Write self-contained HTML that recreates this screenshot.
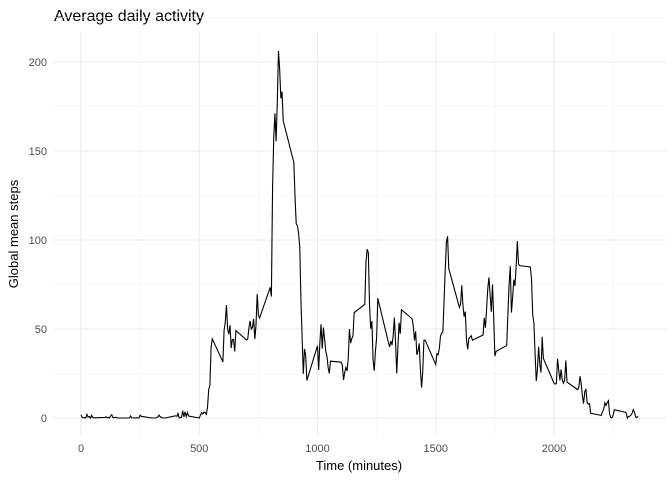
<!DOCTYPE html>
<html><head><meta charset="utf-8"><style>
body{margin:0;background:#fff;font-family:"Liberation Sans",sans-serif;}
</style></head><body>
<svg id="chart" width="672" height="480">
<text x="54" y="21" font-size="16" fill="#000">Average daily activity</text>
<g id="grid"></g><g id="ticks"></g>
<text x="359" y="470" font-size="13" text-anchor="middle">Time (minutes)</text>
<text transform="translate(18,234) rotate(-90)" font-size="13" text-anchor="middle">Global mean steps</text>
<path id="line" fill="none" stroke="#000" stroke-width="1.1"></path>
</svg>
<script>
const xTicks=[0,500,1000,1500,2000];
const yTicks=[0,50,100,150,200];
const intervals=[];
for(let h=0;h<24;h++)for(let m=0;m<60;m+=5)intervals.push(h*100+m);
const steps=[1.72,0.34,0.13,0.15,0.08,2.09,0.53,0.87,0,1.47,0.30,0.13,
0.32,0.68,0.15,0.34,0,1.11,1.83,0.17,0.17,0.38,0.26,0,
0,0,1.13,0,0,0.13,0,0.23,0,0,1.55,0.94,
0,0,0,0,0.21,0.62,1.62,0.58,0.49,0.08,0,0,
1.19,0.94,2.57,0,0.34,0.36,4.11,0.66,3.49,0.83,3.11,1.11,
0,1.57,3.0,2.25,3.32,2.96,2.09,6.06,16.02,18.34,39.45,44.49,
31.49,49.26,53.77,63.45,49.96,47.08,52.15,39.34,44.02,44.17,37.36,49.04,
43.81,44.38,50.51,54.51,49.92,50.98,55.68,44.32,52.26,69.55,57.85,56.15,
73.38,68.21,129.43,157.53,171.15,155.40,177.30,206.17,195.92,179.57,183.40,167.02,
143.45,124.04,109.11,108.11,103.72,95.96,66.21,45.23,24.79,38.75,34.98,21.06,
40.57,26.98,42.42,52.66,38.92,50.79,44.28,37.42,34.70,28.34,25.09,31.94,
31.36,29.68,21.32,25.55,28.38,26.47,33.43,49.98,42.04,44.60,46.04,59.19,
63.87,87.70,94.85,92.77,63.40,50.17,54.47,32.42,26.53,37.74,45.06,67.28,
42.34,39.89,43.26,40.98,46.25,56.43,42.75,25.13,39.96,53.55,47.32,60.81,
55.75,51.96,43.58,48.70,35.47,37.55,41.85,27.51,17.11,26.08,43.62,43.77,
30.02,36.08,35.49,38.85,45.96,47.75,48.13,65.32,82.91,98.66,102.11,83.96,
62.13,64.13,74.55,63.17,56.91,59.77,43.87,38.57,44.66,45.45,46.21,43.68,
46.62,56.30,50.72,61.23,72.72,78.94,68.94,59.66,75.09,56.51,34.77,37.45,
40.68,58.02,74.70,85.32,59.26,67.77,77.70,74.25,85.34,99.45,86.58,85.60,
84.87,77.83,58.04,53.36,36.32,20.72,27.40,40.02,30.21,25.55,45.66,33.53,
19.62,19.02,19.34,33.34,26.81,21.17,27.30,21.34,19.55,21.32,32.30,20.15,
15.94,17.23,23.45,19.25,12.45,8.02,14.66,16.30,8.68,7.79,8.13,2.62,
1.45,3.68,4.81,8.51,7.08,8.70,9.75,2.21,0.32,0.11,1.60,4.60,
3.30,2.85,0,0.83,0.96,1.58,2.60,4.70,3.30,0.64,0.23,1.08];
const L=53,R=666,T=32,B=436;
const sx=v=>81+v*(554-81)/2000;
const sy=v=>418-v*(418-62)/200;
const ns="http://www.w3.org/2000/svg";
const grid=document.getElementById('grid'),tk=document.getElementById('ticks');
function ln(x1,y1,x2,y2,c,w,name){const e=document.createElementNS(ns,'line');
e.setAttribute('x1',x1);e.setAttribute('y1',y1);e.setAttribute('x2',x2);e.setAttribute('y2',y2);
e.setAttribute('stroke',c);e.setAttribute('stroke-width',w);


grid.appendChild(e);}
for(let i=0;i<xTicks.length;i++){const v=xTicks[i];
ln(sx(v),T,sx(v),B,'#ebebeb',1.1,'x-major-gridline');
ln(sx(v+250),T,sx(v+250),B,'#f3f3f3',0.6,'x-minor-gridline');
const t=document.createElementNS(ns,'text');t.setAttribute('x',sx(v));t.setAttribute('y',452);
t.setAttribute('font-size','11');t.setAttribute('fill','#4d4d4d');t.setAttribute('text-anchor','middle');
t.textContent=v;


tk.appendChild(t);}
for(let i=0;i<yTicks.length;i++){const v=yTicks[i];
ln(L,sy(v),R,sy(v),'#ebebeb',1.1,'y-major-gridline');
ln(L,sy(v+25),R,sy(v+25),'#f3f3f3',0.6,'y-minor-gridline');
const t=document.createElementNS(ns,'text');t.setAttribute('x',47);t.setAttribute('y',sy(v)+4);
t.setAttribute('font-size','11');t.setAttribute('fill','#4d4d4d');t.setAttribute('text-anchor','end');
t.textContent=v;


tk.appendChild(t);}
let d='';
for(let i=0;i<steps.length;i++)d+=(i?'L':'M')+sx(intervals[i]).toFixed(2)+','+sy(steps[i]).toFixed(2);
document.getElementById('line').setAttribute('d',d);
</script>
</body></html>
